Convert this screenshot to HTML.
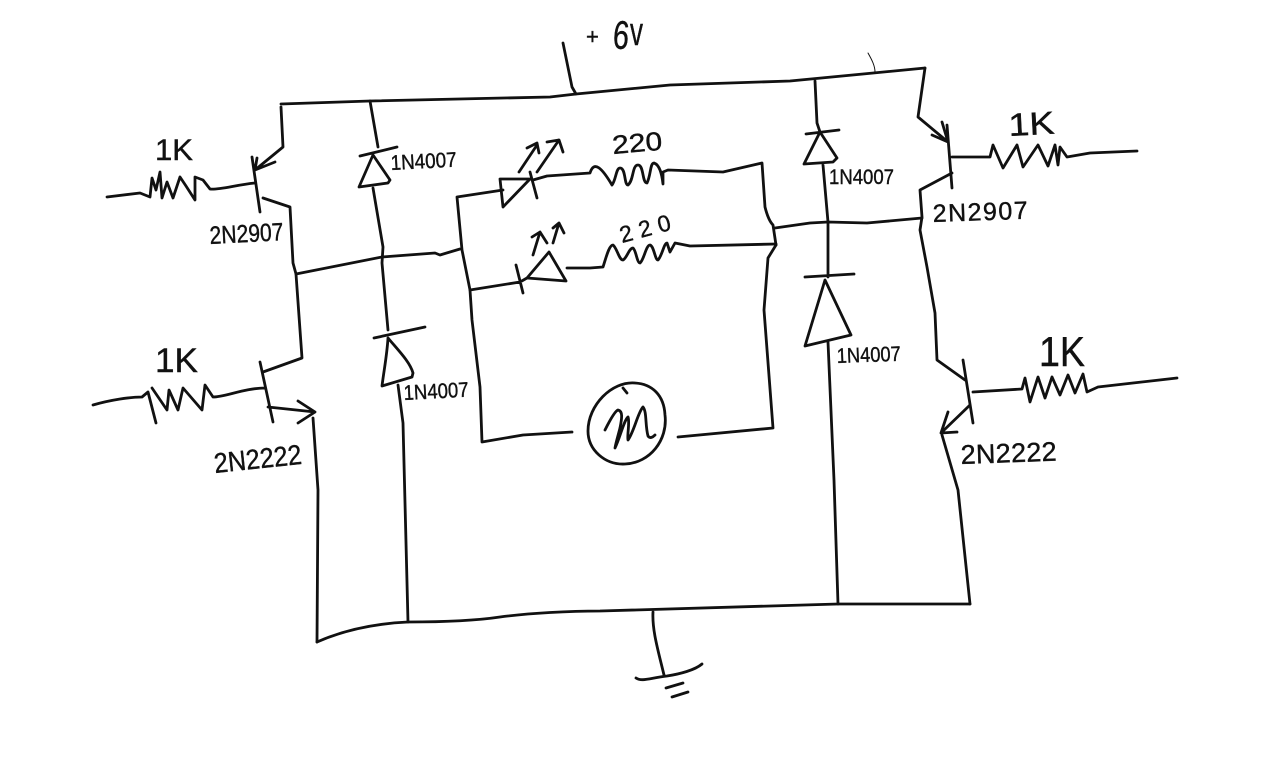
<!DOCTYPE html>
<html><head><meta charset="utf-8"><style>
html,body{margin:0;padding:0;background:#fff;width:1280px;height:772px;overflow:hidden}
svg{display:block}
path{fill:none;stroke:#111;stroke-width:2.8;stroke-linecap:round;stroke-linejoin:round}
path.t{stroke-width:1}
text{font-family:"Liberation Sans",sans-serif;fill:#111;stroke:#111;stroke-width:.4}
</style></head><body>
<svg width="1280" height="772" viewBox="0 0 1280 772" xmlns="http://www.w3.org/2000/svg">
<!-- rails -->
<path d="M281 104L370 101L550 97L576 94L670 85L790 81L863 74L925 68M563 43L572 87L576 94"/>
<path class="t" d="M868 53C872 60 875 66 875 72"/>
<path d="M317 642C335 634 365 624 408 622C450 622 480 620 500 617C530 613 570 611 600 611L838 604L970 604"/>
<path d="M653 612C652 630 658 650 664 675M636 678C642 682 650 678 667 676C680 674 695 670 702 664M666 688L683 683M672 697L688 692"/>
<!-- left upper transistor -->
<path d="M107 197L140 193L150 197L152 178L156 190L160 172L162 198L167 182L173 198L180 177L186 186L195 200L195 177L203 180L210 189C220 190 235 185 255 183"/>
<path d="M252 157L260 212M281 107L283 147L255 170M257 158L255 170L275 162M263 198L290 207L293 263L296 274L302 358L263 372"/>
<!-- left lower transistor -->
<path d="M93 405C110 400 130 397 142 397L148 392L156 423M152 388L167 410L169 390L178 410L183 388L202 410L205 385L213 397C225 397 245 388 265 388M260 362L273 422M268 407L315 412M298 401L315 412L298 423M313 418L318 490L317 642"/>
<path d="M296 274L382 257L435 253L440 255L460 249"/>
<!-- right upper transistor -->
<path d="M925 68L918 117L948 142M942 122L948 142L932 135M947 125L952 188M952 157L990 157L993 145L1003 168L1017 145L1023 167L1038 145L1048 166L1055 145L1058 165L1060 147L1067 157L1090 153L1137 151"/>
<path d="M952 173L920 190L922 217L920 230L927 267L935 313L937 360L965 380"/>
<!-- right lower transistor -->
<path d="M963 360L973 423M973 392L1022 389L1025 378L1030 402L1038 377L1045 398L1052 377L1060 395L1068 375L1075 393L1083 374L1087 392L1098 387L1177 378"/>
<path d="M970 405L942 432M948 412L941 433L957 432M942 435L958 490L970 604"/>
<!-- left diodes -->
<path d="M370 101L378 147M360 156L397 147M373 155L390 180L388 183L359 187L373 155M373 188L383 247L382 263L388 330M374 338L425 327M388 338C398 350 410 362 413 373L412 377L382 386C384 370 387 355 388 338M398 385L403 423L408 622"/>
<!-- right diodes -->
<path d="M815 81L817 123L820 132M806 134L839 130M820 132L837 158L833 162L804 164L820 132M823 165L828 222L828 277M805 277L854 274M825 280L851 335L805 346L825 280M828 342L834 480L838 604"/>
<!-- H bridge centre -->
<path d="M775 228L810 223L828 222L867 223L922 218"/>
<path d="M457 197L462 250L470 290L472 320L480 387L482 442L523 435L572 432M457 197L503 190"/>
<path d="M500 179L530 179L503 207L500 179M530 172L537 198M533 180L547 176L590 173C594 160 602 168 612 185C616 180 616 168 620 168C626 168 624 185 628 185C634 180 632 165 638 165C644 165 642 183 647 183C651 175 650 163 654 163C660 165 662 175 663 184L663 172L668 170L723 172L762 163L765 207C767 215 770 222 773 225L776 245"/>
<path d="M470 290L520 282L527 278M516 265L523 293M527 278L549 252L566 281L527 278M567 268L590 268L603 267C606 258 609 245 613 245C617 248 619 260 623 260C627 258 629 248 633 248C636 250 637 263 640 263C644 260 646 245 650 245C654 246 655 260 658 260C662 256 664 243 667 243L670 252L675 243L690 246L776 244"/>
<path d="M776 245L768 258L764 310L773 428L678 437"/>
<!-- LED arrows -->
<path d="M519 172L537 145M527 148L537 143L539 153M537 172L559 140M547 142L559 140L563 152M533 255L540 232M532 237L540 232L547 243M553 243L559 223M553 228L559 223L564 233"/>
<!-- motor -->
<path d="M635 383C612 381 588 405 588 431C588 450 605 465 625 464C650 463 668 440 665 415C664 395 652 384 635 383M623 388L627 393"/>
<path d="M605 430C610 420 615 411 618 410C623 411 622 418 620 428C618 436 616 442 615 448C620 438 624 420 628 417C630 422 627 435 628 440C634 432 638 412 643 407C647 412 645 425 648 436C650 439 653 437 655 435"/>
<!-- labels -->
<text x="586" y="44" font-size="22">+</text>
<text x="612" y="48" font-size="40" textLength="16" lengthAdjust="spacingAndGlyphs" transform="rotate(5 612 48)">6</text>
<text x="630" y="45" font-size="40" textLength="13" lengthAdjust="spacingAndGlyphs">v</text>
<text x="155" y="160" font-size="30" textLength="38" lengthAdjust="spacingAndGlyphs">1K</text>
<text x="155" y="372" font-size="34" textLength="43" lengthAdjust="spacingAndGlyphs">1K</text>
<text x="1009" y="136" font-size="32" textLength="46" lengthAdjust="spacingAndGlyphs" transform="rotate(-3 1009 136)">1K</text>
<text x="1039" y="366" font-size="42" textLength="46" lengthAdjust="spacingAndGlyphs">1K</text>
<text x="210" y="244" font-size="25" textLength="74" lengthAdjust="spacingAndGlyphs" transform="rotate(-3 210 244)">2N2907</text>
<text x="215" y="473" font-size="28" textLength="88" transform="rotate(-6 215 473)" lengthAdjust="spacingAndGlyphs">2N2222</text>
<text x="933" y="222" font-size="25" textLength="95" transform="rotate(-2 933 222)">2N2907</text>
<text x="961" y="464" font-size="27" textLength="96" transform="rotate(-2 961 464)">2N2222</text>
<text x="391" y="170" font-size="21" textLength="66" lengthAdjust="spacingAndGlyphs" transform="rotate(-3 391 170)">1N4007</text>
<text x="404" y="400" font-size="21" textLength="65" lengthAdjust="spacingAndGlyphs" transform="rotate(-3 404 400)">1N4007</text>
<text x="829" y="184" font-size="21" textLength="65" lengthAdjust="spacingAndGlyphs">1N4007</text>
<text x="837" y="363" font-size="21" textLength="64" lengthAdjust="spacingAndGlyphs" transform="rotate(-2 837 363)">1N4007</text>
<text x="613" y="154" font-size="26" textLength="50" lengthAdjust="spacingAndGlyphs" transform="rotate(-5 613 154)">220</text>
<text x="622" y="243" font-size="23" textLength="52" lengthAdjust="spacing" transform="rotate(-15 622 243)">220</text>
</svg>
</body></html>
